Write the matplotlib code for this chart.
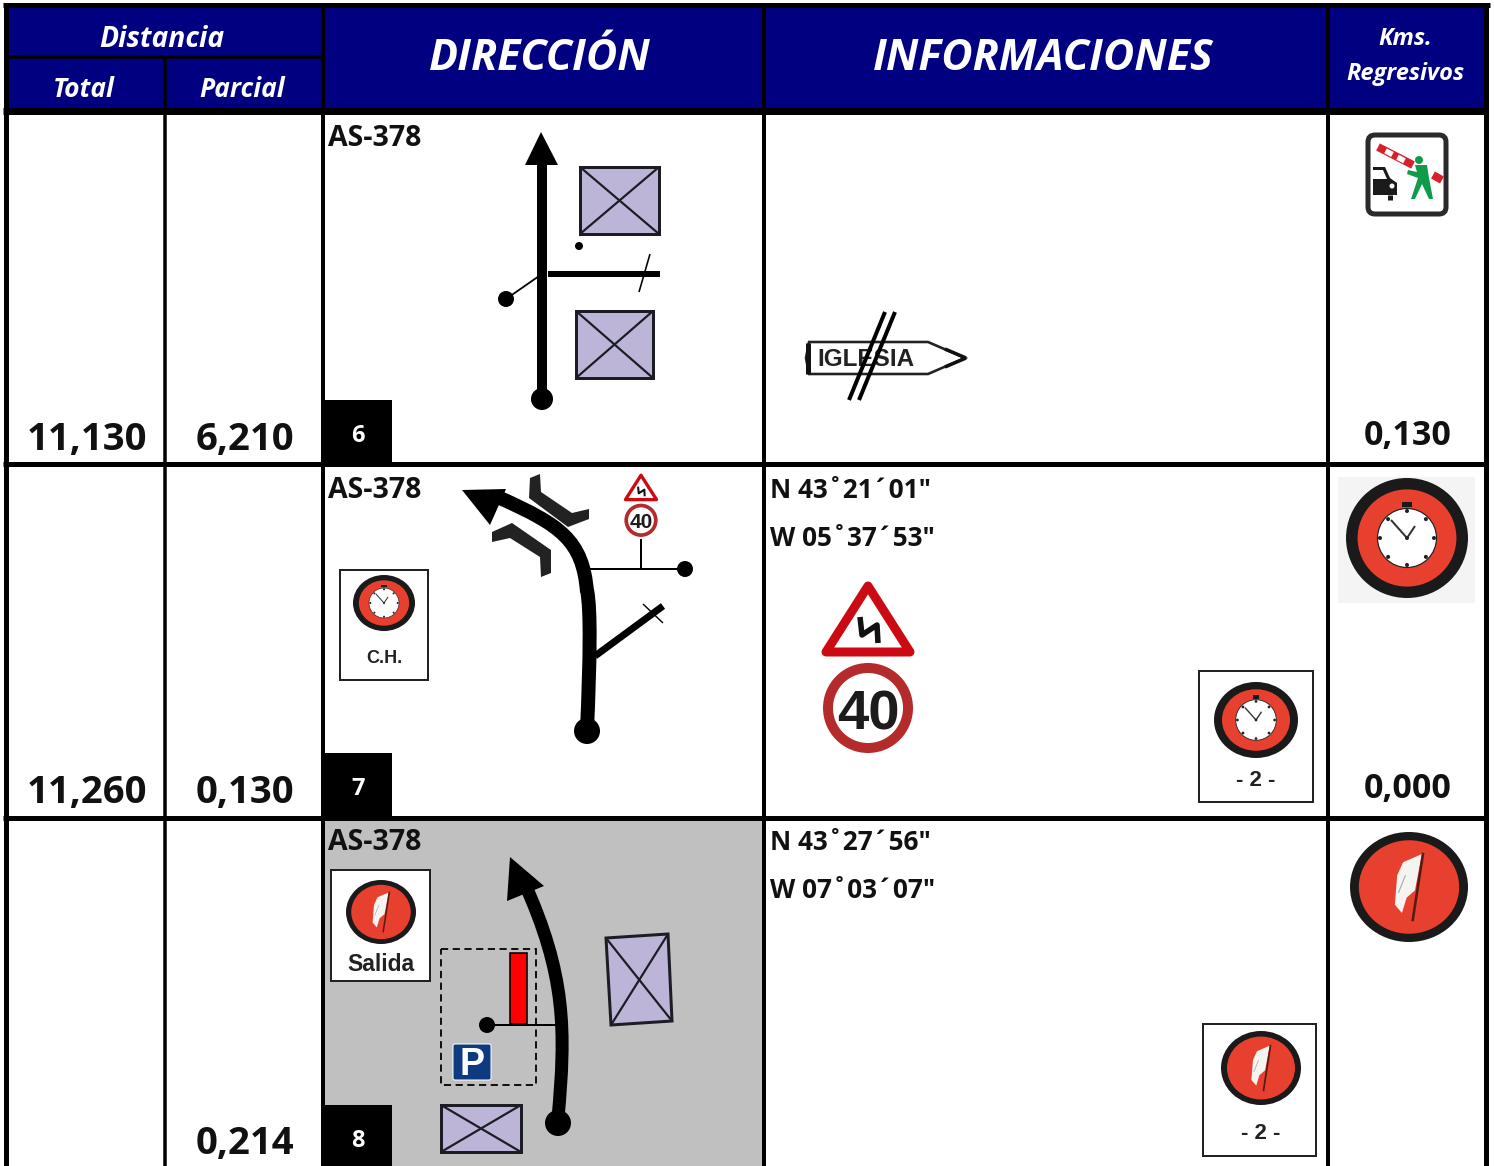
import matplotlib
matplotlib.use("Agg")
import matplotlib.pyplot as plt
from matplotlib import font_manager as fm
from matplotlib.patches import Rectangle, Polygon, Circle, Ellipse, PathPatch, FancyBboxPatch
from matplotlib.path import Path
from matplotlib.lines import Line2D

plt.rcParams['font.family'] = ['Open Sans', 'DejaVu Sans']
NAMES = {f.name for f in fm.fontManager.ttflist}
NARROW = "Liberation Sans Narrow" if "Liberation Sans Narrow" in NAMES else "Liberation Sans"
NARROW_K = 1.05 if NARROW != "Liberation Sans" else 0.88

# ---- table content ----
totals = ["11,130", "11,260", ""]
parciales = ["6,210", "0,130", "0,214"]
regresivos = ["0,130", "0,000", ""]
vinetas = ["6", "7", "8"]
carreteras = ["AS-378", "AS-378", "AS-378"]
coord_n = ["", 'N 43˚21´01"', 'N 43˚27´56"']
coord_w = ["", 'W 05˚37´53"', 'W 07˚03´07"']
base_y = [450, 803, 1154]
road_y = [146, 498, 850]
NAVY = "#000080"

fig = plt.figure(figsize=(14.94, 11.66), dpi=100)
ax = fig.add_axes([0, 0, 1, 1])
ax.set_xlim(0, 1494)
ax.set_ylim(1166, 0)
ax.axis("off")


def lw(px):
    return px * 0.72


def line(xs, ys, w, c="k", z=3, **kw):
    ax.add_line(Line2D(xs, ys, lw=lw(w), color=c, zorder=z, solid_capstyle=kw.pop("cap", "butt"), **kw))


def curve(pts, w, z=3):
    codes = [Path.MOVETO] + [Path.CURVE4] * (len(pts) - 1)
    ax.add_patch(PathPatch(Path(pts, codes), fc="none", ec="k", lw=lw(w), zorder=z, capstyle="butt"))


def dot(x, y, r, c="k", z=4):
    ax.add_patch(Circle((x, y), r, fc=c, ec="none", zorder=z))


def building(corners, z=3):
    c = corners
    ax.add_patch(Polygon(c, closed=True, fc="#BDB5D8", ec="#1c1c24", lw=lw(3), zorder=z))
    line([c[0][0], c[2][0]], [c[0][1], c[2][1]], 2.2, "#1c1c24", z + 0.1)
    line([c[1][0], c[3][0]], [c[1][1], c[3][1]], 2.2, "#1c1c24", z + 0.1)


def clock(cx, cy, rx, ry, z=5):
    ax.add_patch(Ellipse((cx, cy), 2 * rx, 2 * ry, fc="#1a1a1a", ec="none", zorder=z))
    ax.add_patch(Ellipse((cx, cy), 1.62 * rx, 1.62 * ry, fc="#E8402E", ec="none", zorder=z + .05))
    s = rx / 61.0
    ax.add_patch(Rectangle((cx - 5 * s, cy - 36 * s), 10 * s, 5 * s, fc="#1a1a1a", ec="none", zorder=z + .06))
    ax.add_patch(Circle((cx, cy), 29.5 * s, fc="white", ec="#222", lw=lw(max(1.2 * s, .6)), zorder=z + 0.1))
    for dx, dy in [(0, -1), (0, 1), (1, 0), (-1, 0), (.7, -.7), (-.7, -.7), (.7, .7), (-.7, .7)]:
        dot(cx + dx * 27 * s, cy + dy * 27 * s, max(2 * s, .8), "#222", z + 0.2)
    line([cx, cx - 16 * s], [cy, cy - 18 * s], max(2 * s, 1), "#333", z + 0.3)
    line([cx, cx + 8 * s], [cy, cy - 12 * s], max(2 * s, 1), "#333", z + 0.3)
    dot(cx, cy, max(2 * s, .8), "#222", z + 0.3)


def feather(cx, cy, rx, ry, z=5):
    ax.add_patch(Ellipse((cx, cy), 2 * rx, 2 * ry, fc="#1a1a1a", ec="none", zorder=z))
    ax.add_patch(Ellipse((cx, cy), 1.7 * rx, 1.7 * ry, fc="#E8402E", ec="none", zorder=z + .05))
    s = rx / 50.0
    pts = [(11, -28), (-5, -21), (-10, -10), (-12, 15), (-6, 22), (-2, 9), (5, 3)]
    ax.add_patch(Polygon([(cx + a * s, cy + b * s) for a, b in pts], fc="#F6F4F0", ec="none", zorder=z + .1))
    line([cx + 12 * s, cx + 3 * s], [cy - 29 * s, cy + 29 * s], max(2.2 * s, 1), "#5a1a14", z + .2)
    line([cx - 9 * s, cx - 3 * s], [cy + 5 * s, cy - 10 * s], max(s, .6), "#9fb4bc", z + .2)


def framed(x0, y0, x1, y1, w=2, z=4):
    ax.add_patch(Rectangle((x0, y0), x1 - x0, y1 - y0, fc="white", ec="#222", lw=lw(w), zorder=z))


def warn40(cx, ty, s, z=5):
    """danger triangle + 40 disc; s = triangle half width."""
    k = s / 46.0
    ax.add_patch(Polygon([(cx, ty + 6 * k), (cx + s - 4 * k, ty + 72 * k), (cx - s + 4 * k, ty + 72 * k)], closed=True,
                         fc="white", ec="#CC0A14", lw=lw(9 * k), joinstyle="round", zorder=z))
    line([cx - 8 * k, cx - 6 * k, cx + 9 * k, cx + 10 * k],
         [ty + 37 * k, ty + 55 * k, ty + 45 * k, ty + 63 * k], 5.5 * k, "#111", z + .1)
    cy = ty + 128 * k
    ax.add_patch(Circle((cx, cy), 40 * k, fc="white", ec="#B52A2A", lw=lw(10 * k), zorder=z))
    ax.text(cx, cy + 22 * k, "40", ha="center", va="baseline", fontsize=46 * k * NARROW_K, color="#1c1c1c",
            fontfamily=NARROW, fontweight="bold", zorder=z + .1)


# ---- header ----
ax.add_patch(Rectangle((6, 7), 1480, 102, fc=NAVY, ec="none", zorder=1))
hstyle = dict(color="white", style="italic", fontweight="bold", ha="center", zorder=6, va="baseline")
ax.text(162, 47, "Distancia", fontsize=20.3, **hstyle)
ax.text(84, 97, "Total", fontsize=19, **hstyle)
ax.text(242, 97, "Parcial", fontsize=19, **hstyle)
ax.text(540, 70, "DIRECCIÓN", fontsize=31, **hstyle)
ax.text(1043, 70, "INFORMACIONES", fontsize=31, **hstyle)
ax.text(1405, 45, "Kms.", fontsize=17, **hstyle)
ax.text(1405, 80, "Regresivos", fontsize=17, **hstyle)

# grey cell
ax.add_patch(Rectangle((322, 820), 441, 346, fc="#C0C0C0", ec="none", zorder=1))

# ---- grid ----
g = dict(c="k", z=5.5)
line([3, 1490], [5, 5], 5, **g)
line([6, 322], [57, 57], 3.5, **g)
line([3, 1488], [111, 111], 7, **g)
line([3, 1488], [464, 464], 5, **g)
line([3, 1488], [818, 818], 5, **g)
line([6, 6], [3, 1166], 5, **g)
line([1485.5, 1485.5], [3, 1166], 5, **g)
line([164.5, 164.5], [57, 1166], 3.5, **g)
line([322.5, 322.5], [5, 1166], 4, **g)
line([764, 764], [5, 1166], 4, **g)
line([1328, 1328], [5, 1166], 4, **g)

# ---- cell text ----
bstyle = dict(fontweight="bold", color="#111", va="baseline", zorder=7)
for i in range(3):
    base = base_y[i]
    ax.text(87, base, totals[i], fontsize=27.5, ha="center", **bstyle)
    ax.text(245, base, parciales[i], fontsize=27.5, ha="center", **bstyle)
    ax.text(1408, base - 5, regresivos[i], fontsize=24.5, ha="center", **bstyle)
    ax.text(328, road_y[i], carreteras[i], fontsize=20.5, ha="left", **bstyle)
    ax.text(770, road_y[i], coord_n[i], fontsize=18.8, ha="left", **bstyle)
    ax.text(770, road_y[i] + 48, coord_w[i], fontsize=18.8, ha="left", **bstyle)

box_tops = [400, 753, 1105]
for t, v in zip(box_tops, vinetas):
    ax.add_patch(Rectangle((322, t), 70, 66, fc="k", ec="none", zorder=6))
    ax.text(358, t + 42, v, color="white", fontsize=17, fontweight="bold", ha="center", va="baseline", zorder=7)

# ---- row 1: direction ----
line([542, 542], [155, 398], 10)
ax.add_patch(Polygon([(541, 132), (558, 165), (525, 165)], fc="k", ec="none", zorder=4))
dot(542, 399, 11)
line([548, 660], [274, 274], 6)
line([639, 650], [292, 254], 1.6)
line([506, 542], [299, 274], 1.8)
dot(506, 299, 8)
dot(579, 246, 4)
building([(580, 167), (659, 167), (659, 234), (580, 234)])
building([(576, 311), (653, 311), (653, 378), (576, 378)])

# row 1: IGLESIA sign
ax.add_patch(Polygon([(809, 342), (928, 342), (965, 358), (928, 374), (809, 374), (806, 358)], closed=True,
                     fc="white", ec="#222", lw=lw(2.6), zorder=4))
line([808, 808], [343, 374], 5, "#111", 4.1)
line([945, 966], [349, 358], 3.5, "#111", 4.1)
line([945, 966], [367, 358], 3.5, "#111", 4.1)
ax.text(866, 366, "IGLESIA", fontsize=17.5, fontweight="bold", fontfamily="Liberation Sans", color="#222",
        ha="center", va="baseline", zorder=4.2)
line([849, 885], [400, 312], 4, "k", 4.3)
line([859, 895], [400, 312], 4, "k", 4.3)

# row 1: barrier pictogram
ax.add_patch(FancyBboxPatch((1368, 135), 78, 79, boxstyle="round,pad=0,rounding_size=7", fc="white", ec="#2a2a2a",
                            lw=lw(5), zorder=4))
line([1378, 1413], [147, 165], 8, "#D8202A", 4.2)
line([1433, 1442], [175, 180], 8, "#D8202A", 4.2)
for xa, ya in [(1389, 152.7), (1401, 159)]:
    line([xa - 3.5, xa + 3.5], [ya - 1.8, ya + 1.8], 5.5, "white", 4.3)
ax.add_patch(Polygon([(1373, 167), (1385, 167), (1390, 178), (1397, 183), (1397, 195), (1373, 195)], fc="#1b1b1b",
                     ec="none", zorder=4.2))
ax.add_patch(Polygon([(1373, 170), (1383, 170), (1387, 179), (1373, 179)], fc="white", ec="none", zorder=4.3))
dot(1392, 186, 2.5, "white", 4.4)
line([1390, 1390], [195, 200], 5, "#1b1b1b", 4.2)
ax.add_patch(Polygon([(1415, 165), (1427, 165), (1429, 178), (1433, 199), (1429, 199), (1422, 184), (1415, 199),
                      (1411, 199), (1418, 178), (1407, 174), (1408, 170), (1417, 172)], fc="#0F9B4A", ec="none",
                     zorder=4.4))
dot(1419, 160, 4, "#0F9B4A", 4.4)

# ---- row 2: direction ----
curve([(587, 730), (590, 660), (591, 610), (587, 590)], 14)
curve([(587, 592), (583, 540), (560, 525), (500, 498)], 14)
ax.add_patch(Polygon([(462, 490), (506, 489), (490, 525)], fc="k", ec="none", zorder=4))
dot(587, 731, 13)
line([590, 685], [569, 569], 2)
line([641, 641], [569, 539], 2)
dot(685, 569, 8)
line([595, 663], [656, 606], 7)
line([643, 663], [604, 623], 1.4)
ax.add_patch(Polygon([(530, 478), (540, 474), (541, 492), (572, 513), (589, 509), (589, 519), (568, 527), (529, 498)],
                     fc="#222", ec="none", zorder=3))
ax.add_patch(Polygon([(492, 532), (512, 523), (551, 550), (551, 573), (541, 577), (540, 557), (510, 538), (492, 542)],
                     fc="#222", ec="none", zorder=3))
warn40(641, 473, 17)
framed(340, 570, 428, 680)
clock(384, 603, 31, 28)
ax.text(384, 663, "C.H.", fontsize=13, fontweight="bold", fontfamily="Liberation Sans", color="#222", ha="center",
        va="baseline", zorder=6)

# row 2: info
warn40(868, 580, 46)
framed(1199, 671, 1313, 802)
clock(1256, 720, 42, 38)
ax.text(1256, 786, "- 2 -", fontsize=16, fontweight="bold", fontfamily="Liberation Sans", color="#222", ha="center",
        va="baseline", zorder=6)
ax.add_patch(Rectangle((1338, 477), 137, 126, fc="#F4F4F4", ec="none", zorder=2))
clock(1407, 538, 61, 60)

# ---- row 3: direction ----
framed(331, 870, 430, 981)
feather(381, 912, 35, 32)
ax.text(381, 971, "Salida", fontsize=16.5, fontweight="bold", fontfamily="Liberation Sans", color="#222", ha="center",
        va="baseline", zorder=6)
ax.add_patch(Rectangle((441, 949), 95, 136, fc="none", ec="k", lw=lw(1.8), ls=(0, (4, 2.5)), zorder=3))
ax.add_patch(Rectangle((510, 953), 17, 71, fc="#FF0000", ec="k", lw=lw(1.6), zorder=3.5))
line([487, 556], [1025, 1025], 2, z=3.6)
dot(487, 1025, 8)
curve([(558, 1118), (566, 1030), (566, 975), (524, 882)], 13)
ax.add_patch(Polygon([(510, 857), (544, 886), (507, 901)], fc="k", ec="none", zorder=4))
dot(558, 1123, 13)
building([(606, 938), (668, 934), (672, 1021), (611, 1025)])
building([(441, 1105), (521, 1105), (521, 1152), (441, 1152)])
ax.add_patch(FancyBboxPatch((453, 1044), 38, 36, boxstyle="round,pad=0,rounding_size=2", fc="#0E3A80", ec="white",
                            lw=lw(1), zorder=4))
ax.text(472, 1075, "P", color="white", fontsize=27, fontweight="bold", fontfamily="Liberation Sans", ha="center",
        va="baseline", zorder=5)

# row 3: info
framed(1203, 1024, 1316, 1156)
feather(1261, 1068, 40, 37)
ax.text(1261, 1139, "- 2 -", fontsize=16, fontweight="bold", fontfamily="Liberation Sans", color="#222", ha="center",
        va="baseline", zorder=6)
feather(1409, 887, 59, 55)

fig.savefig("out.png", dpi=100)
